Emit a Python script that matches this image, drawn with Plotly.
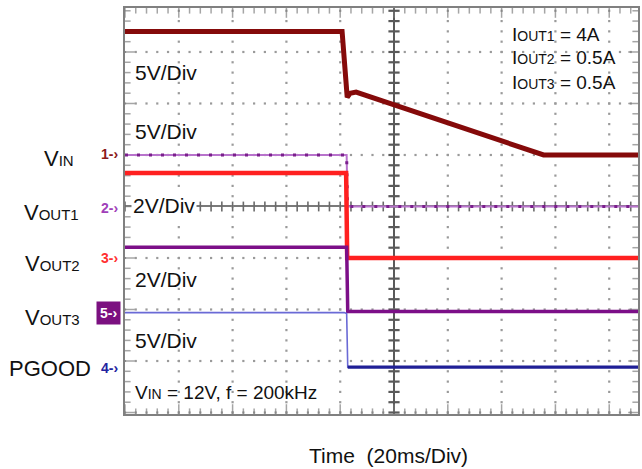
import numpy as np
import plotly.graph_objects as go

# ---- captured waveforms (time in ms, value in volts) ----
t_vin = [-100, -19.3, -17.4, -16.3, -14.1, 55.6, 90.7]
v_vin = [12.0, 12.0, 5.6, 6.0, 6.1, 0.0, 0.0]

t_vout1 = [-100, -17.6, -17.3, 90.7]
v_vout1 = [5.0, 5.0, 0.0, 0.0]

t_vout2 = [-100, -17.8, -17.4, 90.7]
v_vout2 = [3.3, 3.3, 0.0, 0.0]

t_vout3 = [-100, -17.6, -17.2, 90.7]
v_vout3 = [2.5, 2.5, 0.0, 0.0]

t_pgood = [-100, -18.5, -17.6, -17.2, 90.7]
v_pgood = [5.3, 5.3, 5.2, 0.0, 0.0]

# channel vertical settings: volts per division and ground level (divisions from centre)
volts_per_div = {"VIN": 5, "VOUT1": 5, "VOUT2": 2, "VOUT3": 2, "PGOOD": 5}
ground_div = {"VIN": 1.0, "VOUT1": 0.0, "VOUT2": -1.0, "VOUT3": -2.04, "PGOOD": -3.12}

# screen window: 20 ms per division horizontally, divisions vertically
x_range = [-100, 90.7]
y_range = [-4.029, 3.854]
MS_PER_DIV = 20
SUB = 5  # sub-divisions per division

FONT = "Liberation Sans, Arial, Helvetica, sans-serif"
W, H = 642, 469
L, R, T, B = 125, 2, 8, 55


def to_div(name, volts):
    return [ground_div[name] + v / volts_per_div[name] for v in volts]


def px(x):
    return (x - L) / (W - L - R)


def py(y):
    return (H - B - y) / (H - T - B)


fig = go.Figure()

frame = "#808080"
dot = "#9a9a9a"

# ---- graticule ----
sub_x = np.arange(x_range[0], x_range[1] + 1e-6, MS_PER_DIV / SUB)
sub_y = np.round(np.arange(-4.0, y_range[1], 1 / SUB), 3)
div_x = [x for x in np.arange(-80, x_range[1], MS_PER_DIV) if x != 0]
div_y = [y for y in range(-4, 4) if y != 0]

gx, gy = [], []
for xv in div_x:                       # dotted vertical division lines
    gx += [xv] * len(sub_y)
    gy += list(sub_y)
for yv in div_y:                       # dotted horizontal division lines
    gx += list(sub_x)
    gy += [yv] * len(sub_x)
fig.add_trace(go.Scatter(x=gx, y=gy, mode="markers", hoverinfo="skip",
                         marker=dict(symbol="square", size=2.2, color=dot,
                                     line=dict(width=0)),
                         showlegend=False))

# frame tick marks (clipped to the screen so they point inwards)
is_major_x = np.isclose(np.mod(sub_x, MS_PER_DIV), 0)
is_major_y = np.isclose(np.mod(sub_y, 1), 0)
for xs, ys, sym, sizes in [
    (sub_x, np.full_like(sub_x, y_range[1]), "line-ns", np.where(is_major_x, 14, 8)),
    (sub_x, np.full_like(sub_x, y_range[0]), "line-ns", np.where(is_major_x, 14, 8)),
    (np.full_like(sub_y, x_range[0]), sub_y, "line-ew", np.where(is_major_y, 14, 8)),
    (np.full_like(sub_y, x_range[1]), sub_y, "line-ew", np.where(is_major_y, 14, 8)),
]:
    fig.add_trace(go.Scatter(x=xs, y=ys, mode="markers", hoverinfo="skip",
                             cliponaxis=True,
                             marker=dict(symbol=sym, size=sizes,
                                         line=dict(width=1.5, color=frame)),
                             showlegend=False))

# centre crosshair tick marks
fig.add_trace(go.Scatter(
    x=np.zeros_like(sub_y), y=sub_y, mode="markers", hoverinfo="skip",
    marker=dict(symbol="line-ew", size=8, line=dict(width=2.2, color="#5a5a5a")),
    showlegend=False))
fig.add_trace(go.Scatter(
    x=sub_x, y=np.zeros_like(sub_x), mode="markers", hoverinfo="skip",
    marker=dict(symbol="line-ns", size=7, line=dict(width=1.6, color="#6a6a6a")),
    showlegend=False))

# ---- channel traces ----
# VOUT1 (channel 2)
y1 = to_div("VOUT1", v_vout1)
fig.add_trace(go.Scatter(x=t_vout1, y=y1, mode="lines",
                         line=dict(color="#b873cc", width=2), showlegend=False))
fig.add_trace(go.Scatter(x=t_vout1, y=y1, mode="lines",
                         line=dict(color="#7a1f8c", width=3, dash="3px,9px"),
                         showlegend=False))

# VOUT2 (channel 3)
fig.add_trace(go.Scatter(x=t_vout2, y=to_div("VOUT2", v_vout2), mode="lines",
                         line=dict(color="#ff2020", width=4.5), showlegend=False))

# VOUT3 (channel 5)
fig.add_trace(go.Scatter(x=t_vout3, y=to_div("VOUT3", v_vout3), mode="lines",
                         line=dict(color="#7c0f88", width=3.5), showlegend=False))

# PGOOD (channel 4): thin trace while high, heavier once pulled low
tp = np.array(t_pgood)
vp = np.array(v_pgood)
yp = np.array(to_div("PGOOD", v_pgood))
low = vp < 0.5
fig.add_trace(go.Scatter(x=tp, y=yp, mode="lines",
                         line=dict(color="#6a6ad6", width=1.6), showlegend=False))
fig.add_trace(go.Scatter(x=tp[low], y=yp[low], mode="lines",
                         line=dict(color="#1f1f96", width=3.2), showlegend=False))

# VIN (channel 1)
fig.add_trace(go.Scatter(x=t_vin, y=to_div("VIN", v_vin), mode="lines",
                         line=dict(color="#850a0a", width=5), showlegend=False))

fig.update_xaxes(range=x_range, showticklabels=False, ticks="", showgrid=False,
                 zeroline=True, zerolinecolor="#5a5a5a", zerolinewidth=2,
                 showline=True, mirror=True, linecolor=frame, linewidth=2,
                 fixedrange=True)
fig.update_yaxes(range=y_range, showticklabels=False, ticks="", showgrid=False,
                 zeroline=True, zerolinecolor="#7a7a7a", zerolinewidth=1.5,
                 showline=True, mirror=True, linecolor=frame, linewidth=2,
                 fixedrange=True)

annotations = []


def text(x, y, s, size, color="#111111", xanchor="left", **kw):
    annotations.append(dict(
        x=px(x), y=py(y), xref="paper", yref="paper", text=s, showarrow=False,
        xanchor=xanchor, yanchor="middle",
        font=dict(family=FONT, size=size, color=color), **kw))


# scale labels inside the screen
text(133, 73, "5V/Div", 21)
text(133, 131, "5V/Div", 21)
text(131, 206, "2V/Div", 21, bgcolor="white", borderpad=1)
text(133, 279, "2V/Div", 21)
text(133, 340, "5V/Div", 21)
text(133, 392, "V<span style='font-size:14px'>IN</span> = 12V, f = 200kHz", 19)

# load currents
text(512, 35, "I<span style='font-size:14px'>OUT1</span> = 4A", 19)
text(512, 58, "I<span style='font-size:14px'>OUT2</span> = 0.5A", 19)
text(512, 82, "I<span style='font-size:14px'>OUT3</span> = 0.5A", 19)

# signal names
text(59, 158, "V<span style='font-size:15px'>IN</span>", 22, xanchor="center")
text(51, 212, "V<span style='font-size:15px'>OUT1</span>", 22, xanchor="center")
text(52, 263, "V<span style='font-size:15px'>OUT2</span>", 22, xanchor="center")
text(52, 317, "V<span style='font-size:15px'>OUT3</span>", 22, xanchor="center")
text(50, 368, "PGOOD", 22, xanchor="center")

# channel ground markers
text(99, 154, "<b>1-›</b>", 14, color="#8b1a1a")
text(99, 208, "<b>2-›</b>", 14, color="#a040b8")
text(99, 258, "<b>3-›</b>", 14, color="#ff3030")
text(96, 313, "<b>5-›</b>", 14, color="#ffffff", bgcolor="#7b1080", borderpad=3)
text(99, 368, "<b>4-›</b>", 14, color="#2323a0")

# time base
text(390, 455, "Time  (20ms/Div)", 21, xanchor="center")

fig.update_layout(
    width=W, height=H,
    margin=dict(l=L, r=R, t=T, b=B),
    paper_bgcolor="white", plot_bgcolor="white",
    annotations=annotations,
    showlegend=False,
)

fig.write_html("out.html", config={"displayModeBar": False})
